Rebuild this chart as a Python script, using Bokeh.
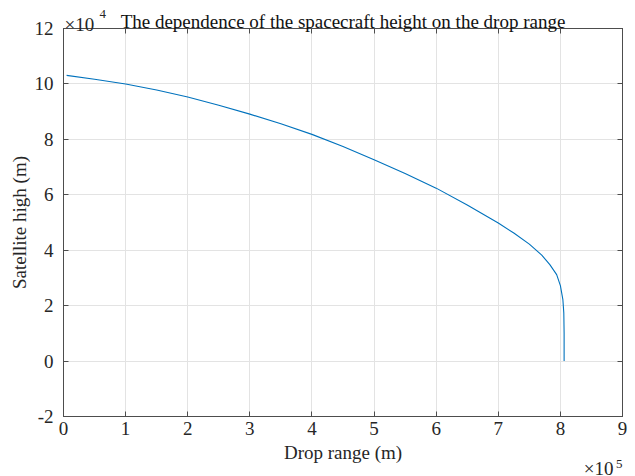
from bokeh.plotting import figure
from bokeh.models import Range1d, FixedTicker, LinearAxis, Label
from bokeh.embed import file_html
from bokeh.resources import INLINE

# Data (meters)
drop_range = [5000, 50000, 100000, 150000, 200000, 250000, 300000, 350000, 400000,
              450000, 500000, 550000, 600000, 650000, 700000, 725000, 750000,
              770000, 783000, 794000, 800000, 804000, 805500, 806000, 806000]
height = [103100, 101700, 100000, 97800, 95300, 92300, 89100, 85600, 81800,
          77400, 72600, 67700, 62400, 56300, 49800, 46200, 42200,
          38200, 34800, 31200, 27200, 22200, 17400, 10000, 0]

x_ticks = [0, 100000, 200000, 300000, 400000, 500000, 600000, 700000, 800000, 900000]
x_tick_labels = ["0", "1", "2", "3", "4", "5", "6", "7", "8", "9"]
y_ticks = [-20000, 0, 20000, 40000, 60000, 80000, 100000, 120000]
y_tick_labels = ["-2", "0", "2", "4", "6", "8", "10", "12"]

title_text = "The dependence of the spacecraft height on the drop range"
x_label = "Drop range (m)"
y_label = "Satellite high (m)"

FONT = "Liberation Serif"
AX = "#4d4d4d"

# The side panels holding the title / exponent labels are taller than the
# reference margins, so the canvas is made taller and shifted up.
p = figure(width=635, height=516, output_backend="svg", toolbar_location=None,
           x_range=Range1d(0, 900000), y_range=Range1d(-20000, 120000),
           min_border_left=63, min_border_right=13, min_border_top=8, min_border_bottom=38)
p.styles = {"margin-top": "-22px"}
p.background_fill_color = "white"
p.border_fill_color = "white"
p.outline_line_color = AX
p.outline_line_width = 1

p.line(drop_range, height, line_color="#0072BD", line_width=1.1)

def style(ax, labels_visible=True):
    ax.major_tick_in = 5
    ax.major_tick_out = 0
    ax.minor_tick_in = 0
    ax.minor_tick_out = 0
    ax.axis_line_color = AX
    ax.major_tick_line_color = AX
    ax.major_label_text_font = FONT
    ax.major_label_text_font_size = "19px" if labels_visible else "0px"
    ax.major_label_text_color = "#262626"
    ax.axis_label_text_font = FONT
    ax.axis_label_text_font_size = "19px"
    ax.axis_label_text_font_style = "normal"
    ax.axis_label_text_color = "#262626"

xa = p.xaxis[0]
xa.ticker = FixedTicker(ticks=x_ticks)
xa.major_label_overrides = dict(zip(x_ticks, x_tick_labels))
style(xa)
xa.major_label_standoff = 5
xa.axis_label = x_label
xa.axis_label_standoff = 4

ya = p.yaxis[0]
ya.ticker = FixedTicker(ticks=y_ticks)
ya.major_label_overrides = dict(zip(y_ticks, y_tick_labels))
style(ya)
ya.major_label_standoff = 10
ya.axis_label = y_label
ya.axis_label_standoff = 2

top = LinearAxis(ticker=FixedTicker(ticks=x_ticks))
style(top, False)
top.major_label_overrides = {t: "" for t in x_ticks}
top.major_label_standoff = 0
p.add_layout(top, "above")
right = LinearAxis(ticker=FixedTicker(ticks=y_ticks))
style(right, False)
right.major_label_overrides = {t: "" for t in y_ticks}
right.major_label_standoff = 0
p.add_layout(right, "right")

p.xgrid.ticker = FixedTicker(ticks=x_ticks)
p.ygrid.ticker = FixedTicker(ticks=y_ticks)
p.xgrid.grid_line_color = "#e3e3e3"
p.ygrid.grid_line_color = "#e3e3e3"

def lab(**kw):
    base = dict(text_baseline="alphabetic", text_font=FONT, text_color="#262626")
    base.update(kw)
    return Label(**base)

# Title and exponent labels placed in side panels (not clipped to the frame)
p.add_layout(lab(x=450000, y=120000, y_offset=7, text=title_text, text_align="center",
                 text_font_size="19px", text_color="#111111"), "above")
p.add_layout(lab(x=0, y=120000, x_offset=1, y_offset=4, text="\u00d710", text_align="left",
                 text_font_size="19px"), "above")
p.add_layout(lab(x=0, y=120000, x_offset=36, y_offset=15, text="4", text_align="left",
                 text_font_size="13px"), "above")
p.add_layout(lab(x=900000, y=-20000, x_offset=-9, y_offset=-52, text="\u00d710", text_align="right",
                 text_font_size="19px"), "below")
p.add_layout(lab(x=900000, y=-20000, x_offset=0, y_offset=-47, text="5", text_align="right",
                 text_font_size="13px"), "below")

open("out.html", "w").write(file_html(p, INLINE))
